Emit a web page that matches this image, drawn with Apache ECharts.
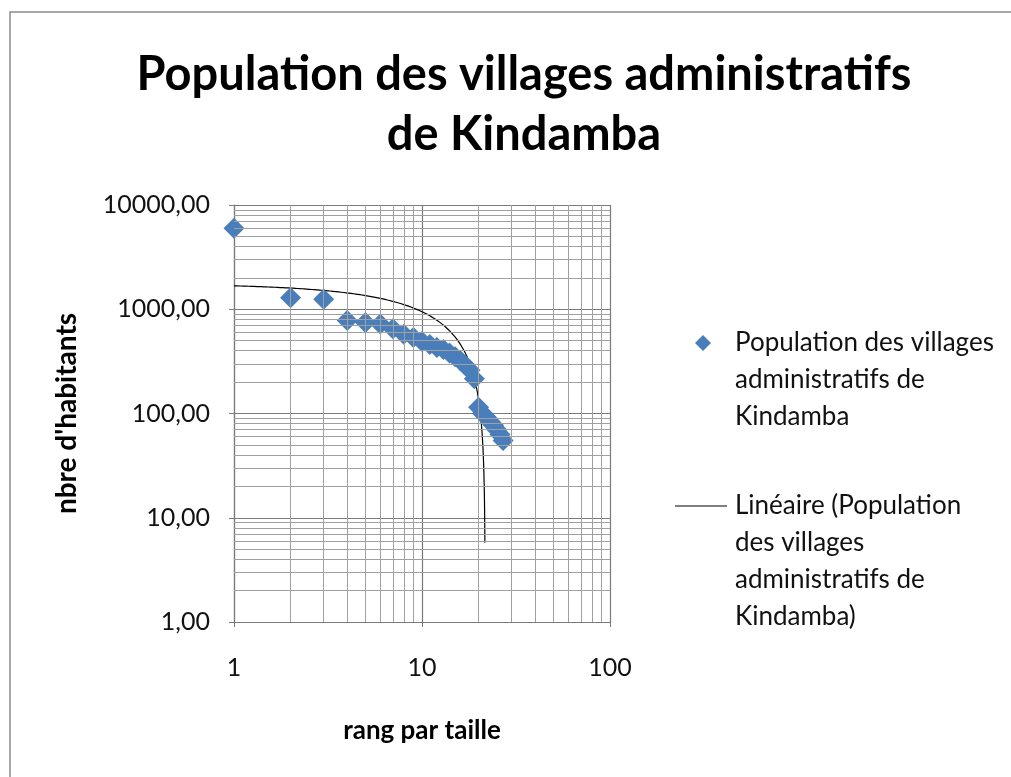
<!DOCTYPE html>
<html>
<head>
<meta charset="utf-8">
<script src="https://cdn.jsdelivr.net/npm/echarts@6/dist/echarts.min.js"></script>
<style>
html,body{margin:0;padding:0;background:#fff;}
#chart{width:1011px;height:777px;}
</style>
</head>
<body>
<div id="chart"></div>
<script>
// ---- data ----
const ranks = [1,2,3,4,5,6,7,8,9,10,11,12,13,14,15,16,17,18,19,20,21,22,23,24,25,26,27];
const population = [6000,1290,1250,780,745,720,650,575,535,490,460,430,410,380,350,320,290,260,215,115,100,92,84,77,70,63,55];
const xTicks = [1,10,100];
const yTicks = [1,10,100,1000,10000];
const xMinor = [2,3,4,5,6,7,8,9,20,30,40,50,60,70,80,90];
const yMinor = [2,3,4,5,6,7,8,9,20,30,40,50,60,70,80,90,200,300,400,500,600,700,800,900,2000,3000,4000,5000,6000,7000,8000,9000];
const titleText = 'Population des villages administratifs\nde Kindamba';
const seriesName = 'Population des villages administratifs de Kindamba';
const trendName = 'Linéaire (Population des villages administratifs de Kindamba)';
const legendText1 = 'Population des villages\nadministratifs de\nKindamba';
const legendText2 = 'Linéaire (Population\ndes villages\nadministratifs de\nKindamba)';
const xName = 'rang par taille';
const yName = "nbre d'habitants";

// ---- linear least-squares trend (Excel "Linéaire") computed from the data ----
const n = ranks.length;
const mx = ranks.reduce((a,b)=>a+b,0)/n;
const my = population.reduce((a,b)=>a+b,0)/n;
let sxy=0, sxx=0;
for (let i=0;i<n;i++){ sxy += (ranks[i]-mx)*(population[i]-my); sxx += (ranks[i]-mx)*(ranks[i]-mx); }
const slope = sxy/sxx, intercept = my - slope*mx;
const trend = [];
for (let k = 0; ; k++) {
  const x = ranks[0] + k*0.02;
  if (x > ranks[n-1]) break;
  const y = intercept + slope*x;
  if (y >= 5) trend.push([x, y]);
}

const points = ranks.map((r,i)=>[r, population[i]]);
const font = 'Lato, "Open Sans", sans-serif';
const majorCol = '#7a7a7a', minorCol = '#a0a0a0';

const chart = echarts.init(document.getElementById('chart'), null, {renderer:'canvas'});
chart.setOption({
  animation: false,
  backgroundColor: '#fff',
  title: {
    text: titleText,
    left: 519, top: 40, textAlign: 'center',
    textStyle: {fontFamily: font, fontWeight: 'bold', fontSize: 47, lineHeight: 60, color: '#000'}
  },
  grid: {left: 234, right: 401, top: 205, bottom: 155, containLabel: false},
  xAxis: {
    type: 'log', logBase: 10, min: 1, max: 100,
    name: xName, nameLocation: 'middle', nameGap: 96,
    nameTextStyle: {fontFamily: font, fontWeight: 'bold', fontSize: 26, color: '#000'},
    axisLine: {show: true, lineStyle: {color: majorCol, width: 1.2}},
    axisTick: {show: true, inside: false, length: 5, lineStyle: {color: majorCol}},
    axisLabel: {fontFamily: font, fontSize: 25, color: '#111', margin: 33},
    splitLine: {show: true, lineStyle: {color: majorCol, width: 1.2}}
  },
  yAxis: {
    type: 'log', logBase: 10, min: 1, max: 10000,
    name: yName, nameLocation: 'middle', nameGap: 153, nameRotate: 90,
    nameTextStyle: {fontFamily: font, fontWeight: 'bold', fontSize: 28, color: '#000'},
    axisLine: {show: true, lineStyle: {color: majorCol, width: 1.2}},
    axisTick: {show: true, inside: false, length: 5, lineStyle: {color: majorCol}},
    axisLabel: {fontFamily: font, fontSize: 25, color: '#111', margin: 24,
      formatter: v => v.toFixed(2).replace('.', ',')},
    splitLine: {show: true, lineStyle: {color: majorCol, width: 1.2}}
  },
  series: [
    {
      name: 'minor-grid', type: 'scatter', data: [], silent: true,
      markLine: {
        silent: true, symbol: ['none','none'], animation: false,
        label: {show: false},
        lineStyle: {color: minorCol, type: 'solid', width: 1},
        data: xMinor.map(v => ({xAxis: v})).concat(yMinor.map(v => ({yAxis: v})))
      },
      z: 0
    },
    {
      name: trendName, type: 'line', data: trend, showSymbol: false, symbol: 'none',
      lineStyle: {color: '#000', width: 1.2}, z: 3, silent: true
    },
    {
      name: seriesName, type: 'scatter', data: points,
      symbol: 'diamond', symbolSize: [21, 21],
      itemStyle: {color: '#4a7ebb', opacity: 1, borderWidth: 0}, z: 4
    }
  ],
  graphic: [
    {type: 'rect', shape: {x: 10, y: 12, width: 1200, height: 900},
     style: {fill: 'none', stroke: '#8a8a8a', lineWidth: 1.5}, silent: true},
    {type: 'polygon', shape: {points: [[703,335],[711,343],[703,351],[695,343]]},
     style: {fill: '#4a7ebb'}},
    {type: 'text', x: 735, y: 324,
     style: {text: legendText1, font: '26px ' + font,
             lineHeight: 37, fill: '#111'}},
    {type: 'line', shape: {x1: 675, y1: 506, x2: 727, y2: 506}, style: {stroke: '#000', lineWidth: 1.2}},
    {type: 'text', x: 735, y: 487,
     style: {text: legendText2, font: '26px ' + font,
             lineHeight: 37, fill: '#111'}}
  ]
});
</script>
</body>
</html>
